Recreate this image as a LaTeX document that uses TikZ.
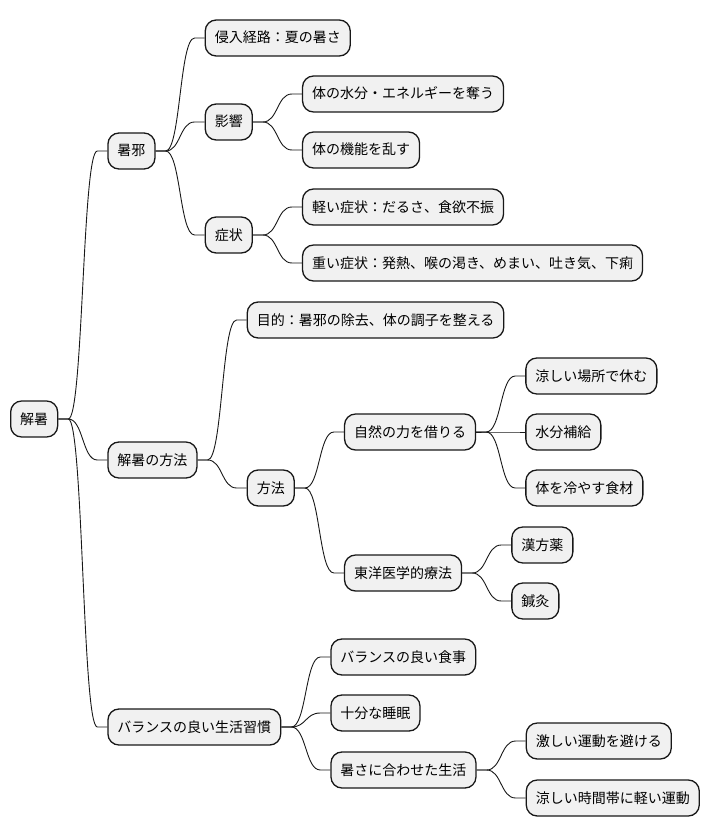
\documentclass[tikz,border=0pt]{standalone}
\usepackage{fontspec}
\setmainfont{Noto Sans CJK JP}
\usepackage{tikz}
\usetikzlibrary{positioning}

\definecolor{boxfill}{HTML}{F1F1F1}
\definecolor{boxline}{HTML}{181818}

\begin{document}
\begin{tikzpicture}[x=1pt, y=1pt, node distance={49pt},
    box/.style = {draw=boxline, fill=boxfill, line width=1.3pt, rounded corners=11pt,
        minimum height=36pt, inner xsep=9.5pt, inner ysep=0pt,
        text height=11.5pt, text depth=1.5pt,
        font=\fontsize{14pt}{16pt}\selectfont},
    link/.style = {draw=boxline, line width=0.9pt}]
    \useasboundingbox (0,0) rectangle (712,-837);

    \node[box, anchor=west] (root) at (10,-419) {解暑};

    % 暑邪
    \node[box] (sx) [right=of root, yshift=268pt] {暑邪};
    \node[box] (qin) [right=of sx, yshift=113pt] {侵入経路：夏の暑さ};
    \node[box] (ying) [right=of sx, yshift=29pt] {影響};
    \node[box] (ying1) [right=of ying, yshift=28pt] {体の水分・エネルギーを奪う};
    \node[box] (ying2) [right=of ying, yshift=-28pt] {体の機能を乱す};
    \node[box] (zz) [right=of sx, yshift=-84pt] {症状};
    \node[box] (zz1) [right=of zz, yshift=28pt] {軽い症状：だるさ、食欲不振};
    \node[box] (zz2) [right=of zz, yshift=-28pt] {重い症状：発熱、喉の渇き、めまい、吐き気、下痢};

    % 解暑の方法
    \node[box] (ff) [right=of root, yshift=-41pt] {解暑の方法};
    \node[box] (md) [right=of ff, yshift=140pt] {目的：暑邪の除去、体の調子を整える};
    \node[box] (fa) [right=of ff, yshift=-28pt] {方法};
    \node[box] (zr) [right=of fa, yshift=56pt] {自然の力を借りる};
    \node[box] (zr1) [right=of zr, yshift=56pt] {涼しい場所で休む};
    \node[box] (zr2) [right=of zr] {水分補給};
    \node[box] (zr3) [right=of zr, yshift=-56pt] {体を冷やす食材};
    \node[box] (dy) [right=of fa, yshift=-85pt] {東洋医学的療法};
    \node[box] (dy1) [right=of dy, yshift=28pt] {漢方薬};
    \node[box] (dy2) [right=of dy, yshift=-28pt] {鍼灸};

    % バランスの良い生活習慣
    \node[box] (sh) [right=of root, yshift=-308pt] {バランスの良い生活習慣};
    \node[box] (sh1) [right=of sh, yshift=70pt] {バランスの良い食事};
    \node[box] (sh2) [right=of sh, yshift=14pt] {十分な睡眠};
    \node[box] (sh3) [right=of sh, yshift=-43pt] {暑さに合わせた生活};
    \node[box] (sh31) [right=of sh3, yshift=29pt] {激しい運動を避ける};
    \node[box] (sh32) [right=of sh3, yshift=-28pt] {涼しい時間帯に軽い運動};

    \foreach \a/\b in {root/sx, root/ff, root/sh,
                       sx/qin, sx/ying, sx/zz, ying/ying1, ying/ying2, zz/zz1, zz/zz2,
                       ff/md, ff/fa, fa/zr, fa/dy, zr/zr1, zr/zr2, zr/zr3, dy/dy1, dy/dy2,
                       sh/sh1, sh/sh2, sh/sh3, sh3/sh31, sh3/sh32}
        \draw[link] (\a.east) -- ++(10pt,0)
            .. controls +(15pt,0) and +(-15pt,0) .. ([xshift=-10pt]\b.west) -- (\b.west);
\end{tikzpicture}
\end{document}
